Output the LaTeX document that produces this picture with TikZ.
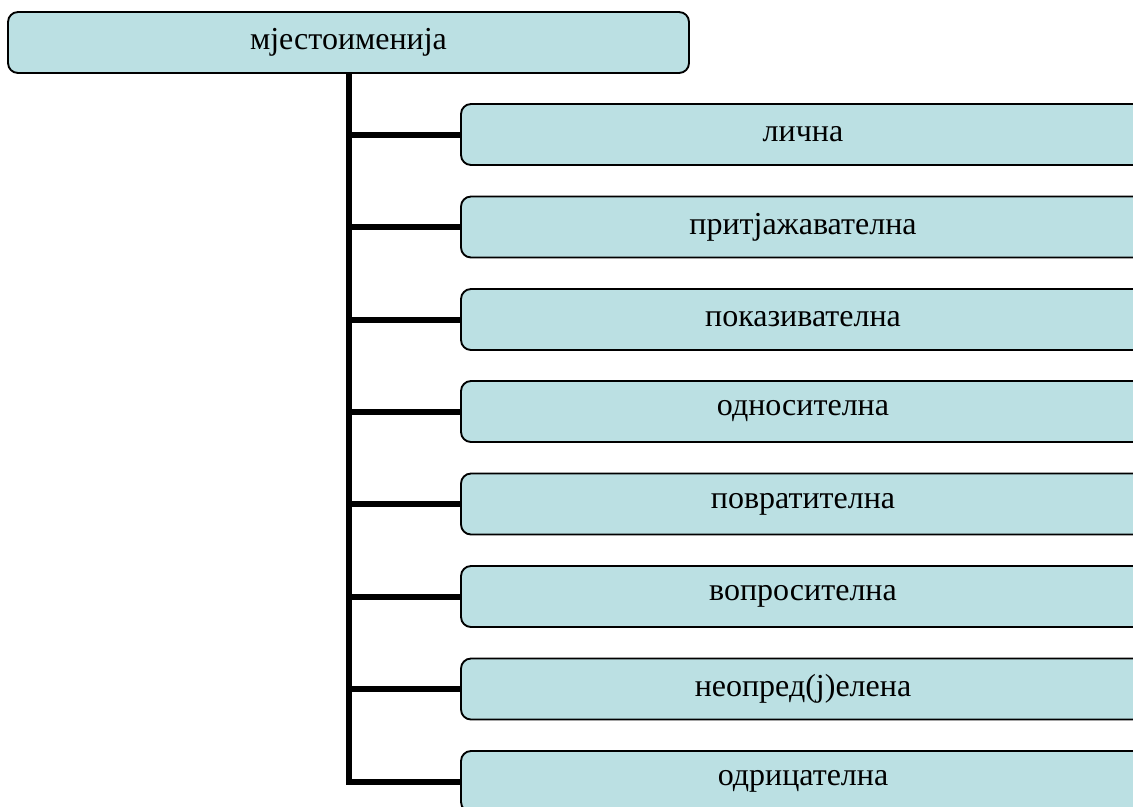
\documentclass[tikz,border=0pt]{standalone}
\usepackage{fontspec}
\setmainfont{Liberation Serif}
\definecolor{boxfill}{HTML}{BBE0E3}
\begin{document}
\begin{tikzpicture}[x=0.75pt,y=-0.75pt,
  catbox/.style={draw=black,line width=1.4pt,fill=boxfill,rounded corners=7.5pt,
    rectangle,inner sep=0pt,outer sep=0pt,minimum height=45.75pt,
    font=\fontsize{24}{28}\selectfont},
  topbox/.style={catbox,minimum width=510.75pt},
  subbox/.style={catbox,minimum width=513pt},
  link/.style={line width=4.5pt,line join=miter}]
\useasboundingbox (0,0) rectangle (1133,807);
\clip (0,0) rectangle (1133,807);
\node[topbox] (top) at (348.5,42.5) {мјестоименија};
\node[subbox] (c1) at (803,134.5) {лична};
\node[subbox] (c2) at (803,227) {притјажавателна};
\node[subbox] (c3) at (803,319.5) {показивателна};
\node[subbox] (c4) at (803,411.5) {односителна};
\node[subbox] (c5) at (803,504) {повратителна};
\node[subbox] (c6) at (803,596.5) {вопросителна};
\node[subbox] (c7) at (803,689) {неопред(ј)елена};
\node[subbox] (c8) at (803,781.5) {одрицателна};
\draw[link] (top.south) |- (c8.west);
\foreach \c in {c1,c2,c3,c4,c5,c6,c7}{
  \draw[link] (top.south |- \c.west) -- (\c.west);
}
\end{tikzpicture}
\end{document}
